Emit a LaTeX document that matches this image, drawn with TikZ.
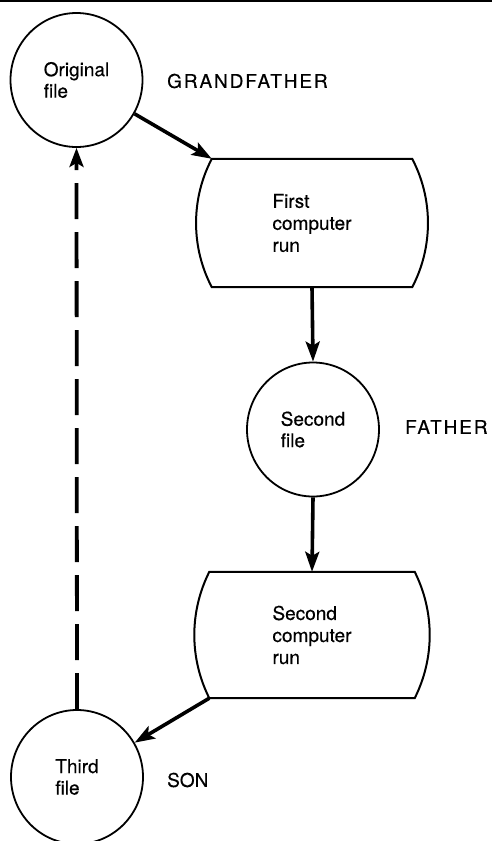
\documentclass[tikz,border=0pt]{standalone}
\usepackage{fontspec}
\setmainfont[FakeBold=0.4]{TeX Gyre Heros}
\newfontfamily\lblfont[LetterSpace=10,FakeBold=0.4]{TeX Gyre Heros}
\usetikzlibrary{arrows.meta,shapes.geometric}
\tikzset{
  filenode/.style={ellipse, draw, line width=1.8pt, minimum width=132pt, minimum height=134pt, inner sep=0pt, align=left, font=\fontsize{19pt}{21.5pt}\selectfont},
  runnode/.style={rectangle, inner sep=0pt, align=left, font=\fontsize{19pt}{22pt}\selectfont},
  runshape/.style={line width=2pt, line join=miter},
  gentext/.style={anchor=west, inner sep=0pt, font=\lblfont\fontsize{19pt}{22pt}\selectfont},
  plaingen/.style={anchor=west, inner sep=0pt, font=\fontsize{19pt}{22pt}\selectfont},
  flow/.style={line width=3.6pt, -{Stealth[length=20pt,width=14pt,inset=4pt]}},
  backflow/.style={line width=3.8pt, dash pattern=on 36pt off 13pt, -{Stealth[length=19pt,width=14pt,inset=4pt]}}
}
\begin{document}
\begin{tikzpicture}[x=1pt,y=-1pt]
\useasboundingbox (0,0) rectangle (492,841);
\draw[line width=1.4pt] (0,1) -- (492,1);

% file nodes
\node[filenode] (orig) at (76.5,80) {Original\\file};
\node[filenode] (second) at (313,429.5) {Second\\file};
\node[filenode] (third) at (77,777) {Third\\file};

% computer run nodes
\node[runnode, minimum width=200pt, minimum height=128pt] (run1) at (312,223) {First\\computer\\run};
\draw[runshape] (run1.north west) -- (run1.north east)
   .. controls +(21,40) and +(21,-40) .. (run1.south east)
   -- (run1.south west)
   .. controls +(-21,-40) and +(-21,40) .. cycle;

\node[runnode, minimum width=205pt, minimum height=126pt] (run2) at (312,635) {Second\\computer\\run};
\draw[runshape] (run2.north west) -- (run2.north east)
   .. controls +(20,40) and +(20,-40) .. (run2.south east)
   -- (run2.south west)
   .. controls +(-20,-40) and +(-20,40) .. cycle;

% generation labels
\node[gentext] (gf) at (167,81) {GRANDFATHER};
\node[gentext] (fa) at (405,427) {FATHER};
\node[plaingen] (son) at (167,780) {SON};

% connectors
\draw[flow] (orig) -- (run1.north west);
\draw[flow] (run1.south) -- (second.north);
\draw[flow] (second.south) -- (run2.north);
\draw[flow] (run2.south west) -- (third);
\draw[backflow] (third.north) -- (orig.south);
\end{tikzpicture}
\end{document}
